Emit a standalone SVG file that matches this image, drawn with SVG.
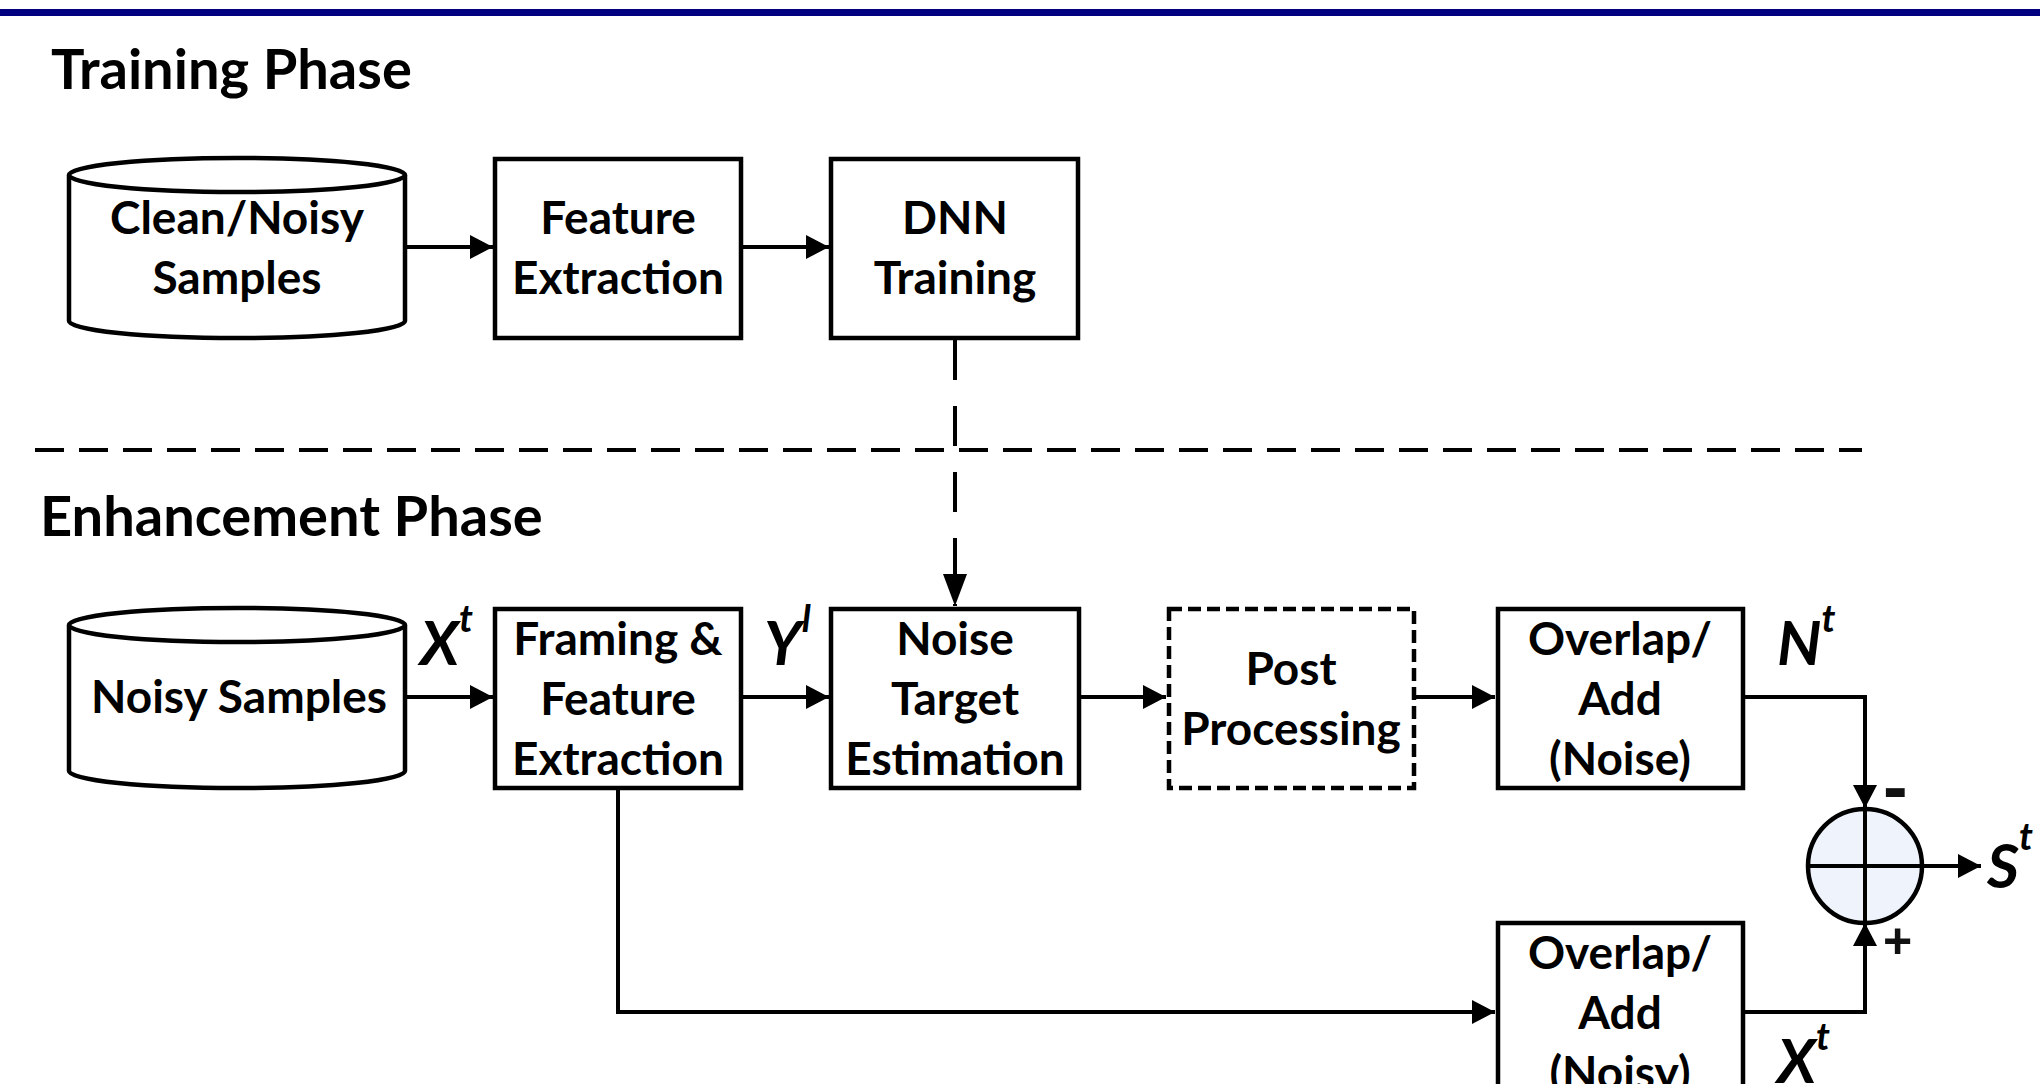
<svg xmlns="http://www.w3.org/2000/svg" width="2040" height="1084" viewBox="0 0 2040 1084">
<style>
.title{font-family:Lato,"Liberation Sans",sans-serif;font-weight:bold;font-size:56px;fill:#000}
.t{font-family:Lato,"Liberation Sans",sans-serif;font-weight:bold;font-size:46px;fill:#000;text-anchor:middle}
.v{font-family:Lato,"Liberation Sans",sans-serif;font-weight:bold;font-style:italic;font-size:62px;fill:#000}
.sup{font-size:38px}
.box{fill:#fff;stroke:#000;stroke-width:4.5}
.dbox{fill:#fff;stroke:#000;stroke-width:4.5;stroke-dasharray:13 6}
.ln{fill:none;stroke:#000;stroke-width:4}
.sign{font-family:"Liberation Sans",sans-serif;font-weight:bold;fill:#111}
</style>
<defs>
<marker id="arr" markerUnits="userSpaceOnUse" markerWidth="23" markerHeight="24" viewBox="0 0 23 24" refX="23" refY="12" orient="auto">
<path d="M0,0 L23,12 L0,24 Z" fill="#000"/>
</marker>
<marker id="arrv" markerUnits="userSpaceOnUse" markerWidth="32" markerHeight="24" viewBox="0 0 32 24" refX="32" refY="12" orient="auto">
<path d="M0,0 L32,12 L0,24 Z" fill="#000"/>
</marker>
</defs>
<rect x="0" y="0" width="2040" height="1084" fill="#fff"/>
<rect x="0" y="9" width="2040" height="7" fill="#000080"/>

<text class="title" x="51" y="89">Training Phase</text>
<text class="title" x="40" y="536">Enhancement Phase</text>

<g id="connectors">
<line class="ln" x1="35" y1="450" x2="1862" y2="450" stroke-dasharray="29 15"/>
<line class="ln" x1="407" y1="247" x2="493" y2="247" marker-end="url(#arr)"/>
<line class="ln" x1="743" y1="247" x2="829" y2="247" marker-end="url(#arr)"/>
<line class="ln" x1="955" y1="340" x2="955" y2="606" stroke-dasharray="40 26" marker-end="url(#arrv)"/>
<line class="ln" x1="407" y1="697" x2="493" y2="697" marker-end="url(#arr)"/>
<line class="ln" x1="743" y1="697" x2="829" y2="697" marker-end="url(#arr)"/>
<line class="ln" x1="1081" y1="697" x2="1166" y2="697" marker-end="url(#arr)"/>
<line class="ln" x1="1416" y1="697" x2="1495" y2="697" marker-end="url(#arr)"/>
<polyline class="ln" points="1745,697 1865,697 1865,808" marker-end="url(#arr)"/>
<polyline class="ln" points="1745,1012 1865,1012 1865,923" marker-end="url(#arr)"/>
<polyline class="ln" points="618,790 618,1012 1495,1012" marker-end="url(#arr)"/>
<line class="ln" x1="1922" y1="866" x2="1981" y2="866" marker-end="url(#arr)"/>
</g>

<g id="clean-noisy-samples">
<path class="box" d="M69,175 L69,321 A168,17 0 0 0 405,321 L405,175"/>
<ellipse class="box" cx="237" cy="175" rx="168" ry="17"/>
<text class="t" x="237" y="234">Clean/Noisy</text>
<text class="t" x="237" y="294">Samples</text>
</g>

<g id="feature-extraction">
<rect class="box" x="495" y="159" width="246" height="179"/>
<text class="t" x="618" y="234">Feature</text>
<text class="t" x="618" y="294">Extraction</text>
</g>

<g id="dnn-training">
<rect class="box" x="831" y="159" width="247" height="179"/>
<text class="t" x="955" y="234">DNN</text>
<text class="t" x="955" y="294">Training</text>
</g>

<g id="noisy-samples">
<path class="box" d="M69,625 L69,771 A168,17 0 0 0 405,771 L405,625"/>
<ellipse class="box" cx="237" cy="625" rx="168" ry="17"/>
<text class="t" x="239" y="713">Noisy Samples</text>
</g>

<g id="framing-feature-extraction">
<rect class="box" x="495" y="609" width="246" height="179"/>
<text class="t" x="618" y="655">Framing &amp;</text>
<text class="t" x="618" y="715">Feature</text>
<text class="t" x="618" y="775">Extraction</text>
</g>

<g id="noise-target-estimation">
<rect class="box" x="831" y="609" width="248" height="179"/>
<text class="t" x="955" y="655">Noise</text>
<text class="t" x="955" y="715">Target</text>
<text class="t" x="955" y="775">Estimation</text>
</g>

<g id="post-processing">
<rect class="dbox" x="1169" y="609" width="245" height="179"/>
<text class="t" x="1291" y="685">Post</text>
<text class="t" x="1291" y="745">Processing</text>
</g>

<g id="overlap-add-noise">
<rect class="box" x="1498" y="609" width="245" height="179"/>
<text class="t" x="1620" y="655">Overlap/</text>
<text class="t" x="1620" y="715">Add</text>
<text class="t" x="1620" y="775">(Noise)</text>
</g>

<g id="overlap-add-noisy">
<rect class="box" x="1498" y="923" width="245" height="179"/>
<text class="t" x="1620" y="969">Overlap/</text>
<text class="t" x="1620" y="1029">Add</text>
<text class="t" x="1620" y="1089">(Noisy)</text>
</g>

<g id="sum">
<circle cx="1865" cy="866" r="57" fill="#EFF3FB" stroke="#000" stroke-width="4.5"/>
<line class="ln" x1="1865" y1="809" x2="1865" y2="923"/>
<line class="ln" x1="1808" y1="866" x2="1922" y2="866"/>
<text class="sign" x="1883" y="812" font-size="74">-</text>
<text class="sign" x="1883" y="958" font-size="50">+</text>
</g>

<g id="labels">
<text class="v" x="420" y="665">X<tspan class="sup" dy="-33">t</tspan></text>
<text class="v" x="764" y="665">Y<tspan class="sup" dy="-33">l</tspan></text>
<text class="v" x="1777" y="665">N<tspan class="sup" dy="-33">t</tspan></text>
<text class="v" x="1987" y="888">S<tspan class="sup" dy="-38">t</tspan></text>
<text class="v" x="1777" y="1083">X<tspan class="sup" dy="-33">t</tspan></text>
</g>
</svg>
